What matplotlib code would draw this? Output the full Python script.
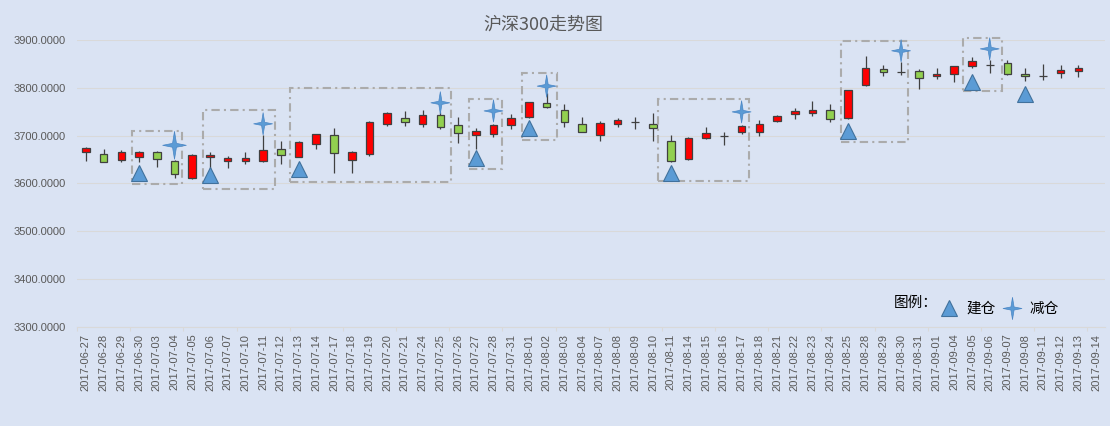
import matplotlib.pyplot as plt
import numpy as np
from matplotlib.path import Path
from matplotlib.patches import Rectangle
from matplotlib.lines import Line2D

dates = ['2017-06-27', '2017-06-28', '2017-06-29', '2017-06-30', '2017-07-03',
         '2017-07-04', '2017-07-05', '2017-07-06', '2017-07-07', '2017-07-10',
         '2017-07-11', '2017-07-12', '2017-07-13', '2017-07-14', '2017-07-17',
         '2017-07-18', '2017-07-19', '2017-07-20', '2017-07-21', '2017-07-24',
         '2017-07-25', '2017-07-26', '2017-07-27', '2017-07-28', '2017-07-31',
         '2017-08-01', '2017-08-02', '2017-08-03', '2017-08-04', '2017-08-07',
         '2017-08-08', '2017-08-09', '2017-08-10', '2017-08-11', '2017-08-14',
         '2017-08-15', '2017-08-16', '2017-08-17', '2017-08-18', '2017-08-21',
         '2017-08-22', '2017-08-23', '2017-08-24', '2017-08-25', '2017-08-28',
         '2017-08-29', '2017-08-30', '2017-08-31', '2017-09-01', '2017-09-04',
         '2017-09-05', '2017-09-06', '2017-09-07', '2017-09-08', '2017-09-11',
         '2017-09-12', '2017-09-13', '2017-09-14']

nan = float('nan')
open_p = [3665, 3662, 3649, 3655, 3667, 3647, 3611, 3655, 3647, 3647,
          3647, 3672, 3655, 3682, 3701, 3649, 3661, 3724, 3737, 3724,
          3743, 3722, 3701, 3703, 3722, 3739, 3768, 3755, 3724, 3701,
          3724, 3728, 3724, 3688, 3651, 3695, 3700, 3707, 3707, 3730,
          3745, 3747, 3755, 3737, 3806, 3839, 3833, 3835, 3825, 3829,
          3846, 3848, 3852, 3829, 3825, 3831, 3835, nan]
high_p = [3677, 3672, 3670, 3669, 3668, 3649, 3661, 3665, 3658, 3667,
          3702, 3690, 3690, 3703, 3716, 3668, 3730, 3749, 3751, 3755,
          3750, 3739, 3716, 3724, 3745, 3771, 3790, 3766, 3739, 3730,
          3737, 3739, 3747, 3701, 3697, 3718, 3707, 3723, 3732, 3743,
          3758, 3772, 3766, 3796, 3867, 3848, 3854, 3839, 3843, 3846,
          3864, 3858, 3858, 3841, 3850, 3848, 3848, nan]
low_p = [3648, 3644, 3644, 3646, 3634, 3611, 3610, 3628, 3632, 3640,
         3646, 3640, 3655, 3672, 3621, 3621, 3658, 3721, 3721, 3719,
         3714, 3684, 3672, 3697, 3714, 3737, 3759, 3718, 3707, 3688,
         3718, 3714, 3688, 3646, 3650, 3693, 3680, 3703, 3699, 3728,
         3735, 3741, 3728, 3736, 3805, 3825, 3827, 3799, 3818, 3812,
         3841, 3831, 3828, 3814, 3816, 3820, 3823, nan]
close_p = [3674, 3646, 3667, 3665, 3651, 3619, 3659, 3660, 3654, 3653,
           3670, 3659, 3686, 3703, 3663, 3667, 3728, 3747, 3728, 3743,
           3719, 3705, 3711, 3722, 3737, 3770, 3760, 3728, 3707, 3726,
           3732, 3728, 3716, 3647, 3695, 3705, 3700, 3720, 3724, 3741,
           3751, 3755, 3735, 3795, 3841, 3833, 3833, 3820, 3829, 3846,
           3856, 3848, 3829, 3825, 3825, 3837, 3841, nan]

# 建仓 / 减仓 signals
build_idx = [3, 7, 12, 22, 25, 33, 43, 50, 53]
build_val = [3622, 3618, 3630, 3653, 3716, 3622, 3710, 3812, 3788]
reduce_idx = [5, 10, 20, 23, 26, 37, 46, 51]
reduce_val = [3680, 3725, 3769, 3752, 3804, 3750, 3878, 3882]

# dashed boxes around the signal zones
box_x0 = [2.6, 6.6, 11.5, 21.6, 24.6, 32.3, 42.6, 49.5]
box_x1 = [5.45, 10.65, 20.6, 23.5, 26.6, 37.4, 46.4, 51.7]
box_lo = [3599, 3589, 3603, 3630, 3691, 3605, 3686, 3794]
box_hi = [3709, 3753, 3800, 3777, 3832, 3777, 3899, 3905]

BG = '#DAE3F3'
GRID = '#D9D9D9'
TXT = '#595959'
BLUE = '#5B9BD5'


def star_marker():
    a, b = 0.85, 0.14
    verts = [(0, 1), (b, b), (a, 0), (b, -b), (0, -1), (-b, -b), (-a, 0), (-b, b), (0, 1)]
    codes = [Path.MOVETO] + [Path.LINETO] * 7 + [Path.CLOSEPOLY]
    return Path(verts, codes)


def main():
    plt.rcParams['font.family'] = ['Liberation Sans', 'Noto Sans CJK SC', 'DejaVu Sans']
    fig = plt.figure(figsize=(11.1, 4.26), dpi=100, facecolor=BG)
    ax = fig.add_axes([0.0694, 0.2331, 0.926, 0.6723])
    ax.set_facecolor(BG)

    x = np.arange(len(dates))
    o = np.array(open_p)
    h = np.array(high_p)
    l = np.array(low_p)
    c = np.array(close_p)
    colors = np.where(c >= o, '#FF0000', '#92D050')

    ax.vlines(x, l, h, color='#404040', lw=0.9, zorder=2)
    ax.bar(x, np.abs(c - o), bottom=np.minimum(o, c), width=0.43, color=colors,
           edgecolor='#404040', linewidth=0.9, zorder=3)

    star = star_marker()
    ax.plot(build_idx, build_val, ls='none', marker='^', ms=12, mfc=BLUE,
            mec='#41719C', mew=0.8, zorder=5, clip_on=False)
    sizes = [20 ** 2 if i == 0 else 16 ** 2 for i in range(len(reduce_idx))]
    ax.scatter(reduce_idx, reduce_val, s=sizes, marker=star, color=BLUE,
               edgecolors='#4A86C5', linewidths=0.5, zorder=5, clip_on=False)

    for x0, x1, lo, hi in zip(box_x0, box_x1, box_lo, box_hi):
        ax.add_patch(Rectangle((x0, lo), x1 - x0, hi - lo, fill=False, ec='#ABABAB',
                               lw=1.5, ls=(0, (4, 2, 1, 2)), clip_on=False, zorder=4))

    ax.set_xlim(-0.5, len(dates) - 0.5)
    ax.set_ylim(3300, 3900)
    ax.set_yticks(np.arange(3300, 3901, 100))
    ax.set_yticklabels(['%.4f' % v for v in np.arange(3300, 3901, 100)])
    ax.set_xticks(x)
    ax.set_xticklabels(dates, rotation=90)
    ax.set_xticks(np.arange(-0.5, len(dates), 3), minor=True)
    ax.tick_params(axis='y', length=0, pad=8, labelsize=8, labelcolor=TXT)
    ax.tick_params(axis='x', which='major', length=0, pad=5, labelsize=8, labelcolor=TXT)
    ax.tick_params(axis='x', which='minor', length=3, color=GRID, width=0.75)
    for s in ['top', 'right', 'left']:
        ax.spines[s].set_visible(False)
    ax.spines['bottom'].set_color(GRID)
    ax.yaxis.grid(True, color=GRID, lw=0.75)
    ax.set_axisbelow(True)

    fig.text(543 / 1110, 1 - 25 / 426, '沪深300走势图', ha='center', va='center',
             fontsize=13, color=TXT, family='Noto Sans CJK SC')

    handles = [Line2D([], [], ls='none', marker='^', ms=12, mfc=BLUE, mec='#41719C', mew=0.8),
               Line2D([], [], ls='none', marker=star, ms=16, mfc=BLUE, mec='#4A86C5', mew=0.5)]
    ax.legend(handles, ['建仓', '减仓'], ncol=2, frameon=False, loc='center left',
              bbox_to_anchor=(940 / 1110, 117 / 426), bbox_transform=fig.transFigure,
              borderpad=0, borderaxespad=0, handlelength=1.2, handletextpad=0.6,
              columnspacing=0.5, prop={'family': 'Noto Sans CJK SC', 'size': 10.5})
    fig.text(894 / 1110, 1 - 303 / 426, '图例：', va='center', fontsize=10.5,
             family='Noto Sans CJK SC', color='black')

    fig.savefig('out.png', dpi=100, facecolor=BG)


if __name__ == '__main__':
    main()
